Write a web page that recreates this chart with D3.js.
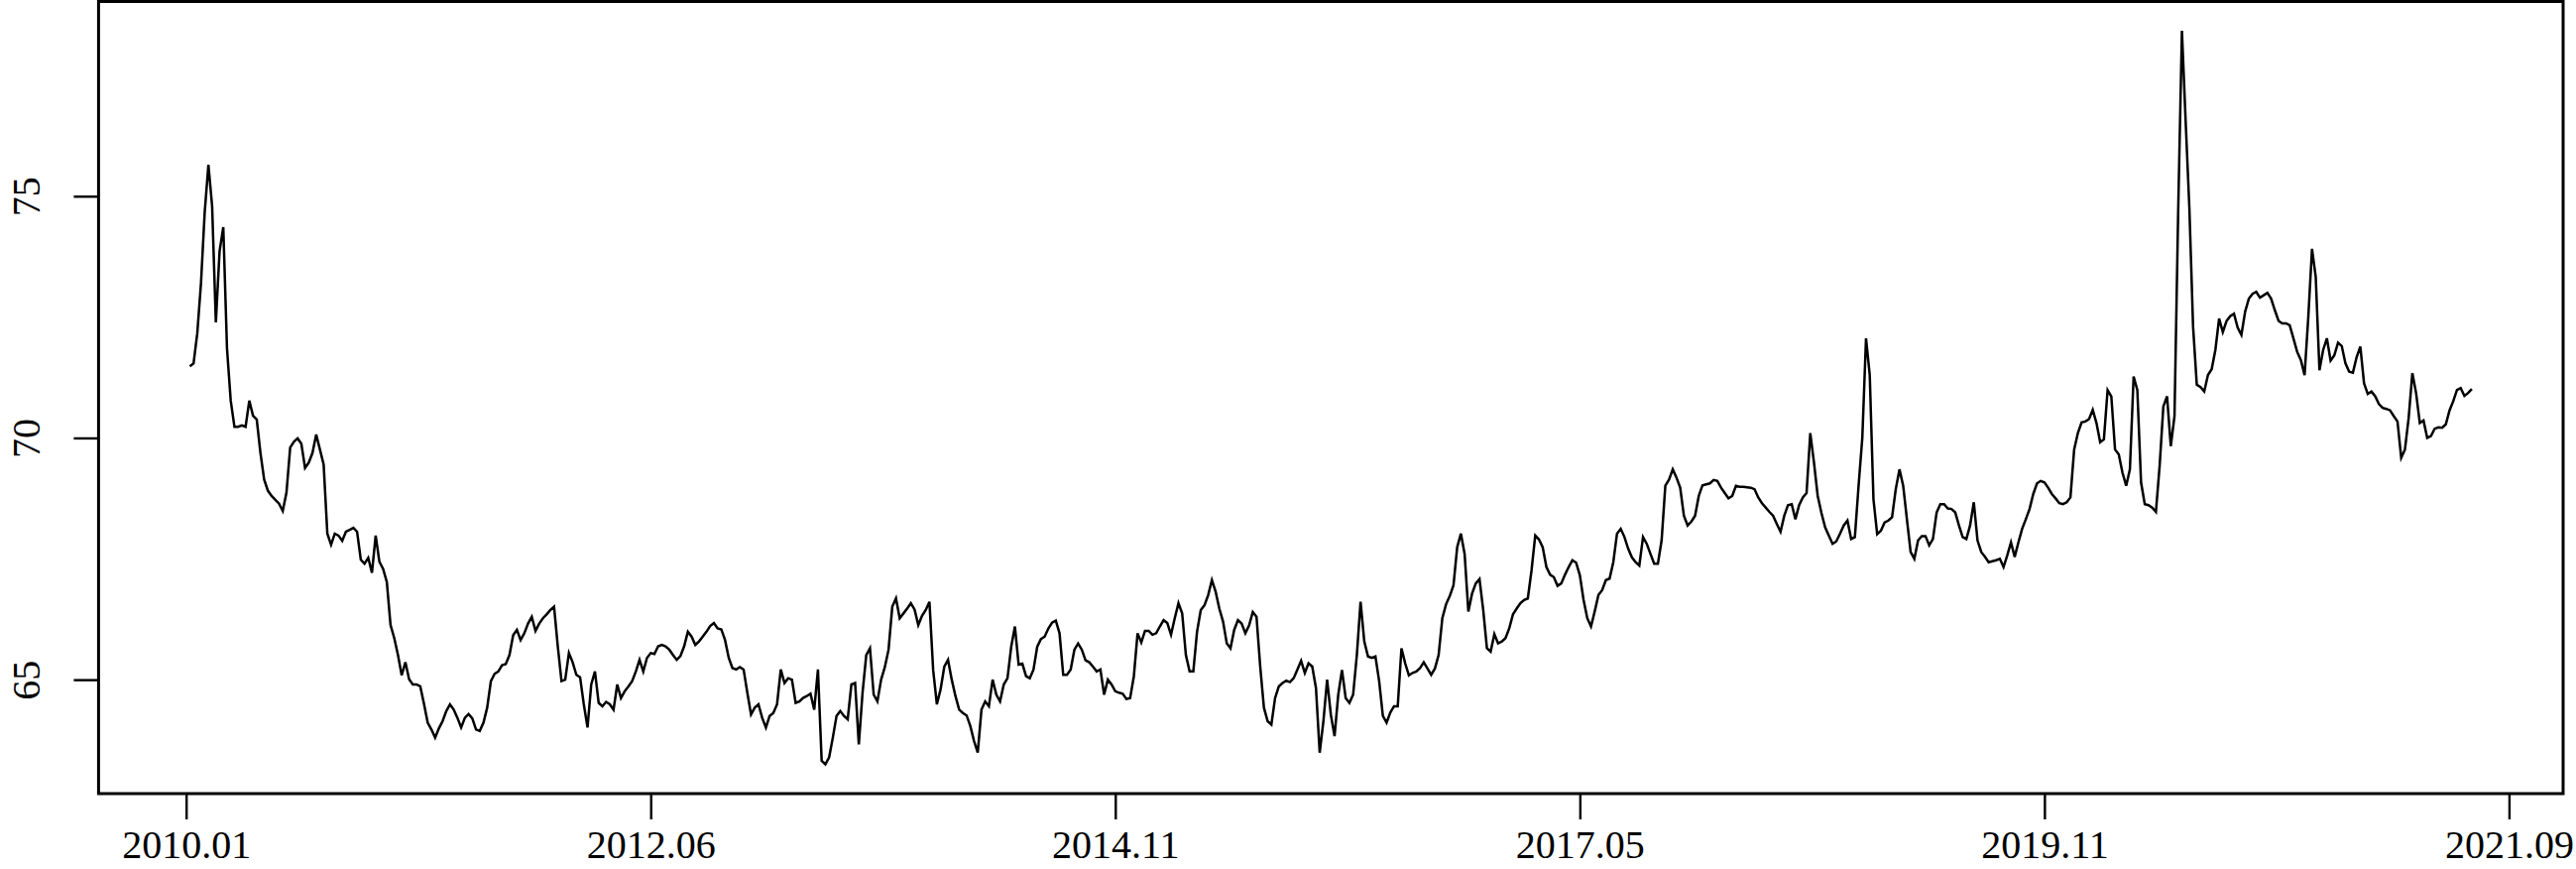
<!DOCTYPE html>
<html>
<head>
<meta charset="utf-8">
<script src="https://cdn.jsdelivr.net/npm/d3@7"></script>
<style>
  html, body { margin: 0; padding: 0; background: #fff; }
  svg { display: block; }
  .axis text { font-family: "Liberation Serif", "DejaVu Serif", serif; font-size: 40px; fill: #000; }
  .axis line { stroke: #000; stroke-width: 2.4; }
</style>
</head>
<body>
<div id="chart"></div>
<script>
// weekly series (index 1..N)
var values = [
  71.48, 71.54, 72.16, 73.2, 74.67, 75.65, 74.79, 72.39, 73.86, 74.36,
  71.85, 70.77, 70.23, 70.23, 70.26, 70.23, 70.77, 70.46, 70.38, 69.69,
  69.14, 68.91, 68.8, 68.72, 68.64, 68.49, 68.87, 69.8, 69.92, 69.99,
  69.88, 69.38, 69.49, 69.69, 70.07, 69.76, 69.45, 68.02, 67.79, 68.02,
  67.98, 67.87, 68.06, 68.1, 68.14, 68.06, 67.48, 67.4, 67.52, 67.21,
  67.98, 67.44, 67.29, 67.02, 66.13, 65.86, 65.51, 65.09, 65.36, 65.01,
  64.9, 64.9, 64.86, 64.5,
  64.11, 63.97, 63.8, 63.99, 64.14, 64.35, 64.49, 64.38, 64.21, 64.01,
  64.21, 64.29, 64.2, 63.97, 63.94, 64.11, 64.42, 64.97, 65.12, 65.17,
  65.3, 65.32, 65.51, 65.92, 66.03, 65.82, 65.96, 66.16, 66.3, 66.01,
  66.16, 66.27, 66.35, 66.44, 66.51, 65.69, 64.97, 65.0, 65.55, 65.36,
  65.1, 65.05, 64.49, 64.01, 64.9, 65.17, 64.52, 64.45, 64.54, 64.49,
  64.38, 64.9, 64.62, 64.76, 64.86, 64.97, 65.17, 65.41, 65.17, 65.45,
  65.55, 65.53, 65.69, 65.72,
  65.69, 65.62, 65.51, 65.41, 65.49, 65.69, 65.99, 65.89, 65.72, 65.79,
  65.89, 65.99, 66.11, 66.17, 66.06, 66.04, 65.82, 65.45, 65.24, 65.21,
  65.26, 65.21, 64.73, 64.28, 64.42, 64.49, 64.21, 64.01, 64.25, 64.31,
  64.49, 65.21, 64.93, 65.03, 65.0, 64.52, 64.55, 64.62, 64.66, 64.71,
  64.38, 65.21, 63.32, 63.25, 63.39, 63.8, 64.25, 64.35, 64.25, 64.18,
  64.9, 64.93, 63.66, 64.73, 65.51, 65.65, 64.69, 64.55, 65.0, 65.26,
  65.62, 66.51, 66.68, 66.27,
  66.37, 66.47, 66.58, 66.45, 66.13, 66.32, 66.44, 66.61, 65.2, 64.49,
  64.8, 65.27, 65.41, 65.0, 64.66, 64.38, 64.31, 64.26, 64.04, 63.73,
  63.49, 64.38, 64.55, 64.45, 65.0, 64.69, 64.55, 64.9, 65.03, 65.68,
  66.1, 65.31, 65.33, 65.07, 65.03, 65.21, 65.68, 65.84, 65.89, 66.06,
  66.18, 66.22, 65.96, 65.1, 65.1, 65.21, 65.62, 65.75, 65.62, 65.4,
  65.36, 65.27, 65.17, 65.21, 64.69, 65.0, 64.9, 64.76, 64.73, 64.71,
  64.6, 64.62, 65.07, 65.96,
  65.77, 66.01, 66.01, 65.93, 65.96, 66.1, 66.23, 66.17, 65.93, 66.27,
  66.58, 66.37, 65.51, 65.17, 65.17, 65.99, 66.44, 66.54, 66.75, 67.06,
  66.82, 66.47, 66.2, 65.75, 65.65, 66.03, 66.23, 66.16, 65.96, 66.12,
  66.4, 66.3, 65.27, 64.42, 64.14, 64.07, 64.62, 64.86, 64.93, 64.98,
  64.95, 65.03, 65.21, 65.39, 65.14, 65.34, 65.27, 64.83, 63.49, 64.14,
  65.0, 64.28, 63.83, 64.69, 65.2, 64.62, 64.52, 64.69, 65.51, 66.61,
  65.79, 65.48, 65.45, 65.48,
  64.97, 64.25, 64.11, 64.32, 64.45, 64.45, 65.65, 65.34, 65.09, 65.14,
  65.17, 65.24, 65.36, 65.23, 65.1, 65.23, 65.51, 66.27, 66.56, 66.73,
  66.95, 67.74, 68.02, 67.6, 66.41, 66.78, 66.99, 67.08, 66.44, 65.65,
  65.58, 65.94, 65.75, 65.79, 65.86, 66.06, 66.35, 66.47, 66.58, 66.65,
  66.68, 67.26, 67.98, 67.9, 67.74, 67.33, 67.17, 67.12, 66.94, 66.99,
  67.17, 67.33, 67.47, 67.42, 67.16, 66.65, 66.27, 66.1, 66.41, 66.75,
  66.85, 67.06, 67.09, 67.43,
  68.02, 68.12, 67.95, 67.71, 67.53, 67.43, 67.36, 67.95, 67.81, 67.6,
  67.4, 67.4, 67.88, 69.01, 69.14, 69.35, 69.18, 68.97, 68.39, 68.19,
  68.27, 68.39, 68.8, 69.02, 69.04, 69.06, 69.13, 69.11, 68.97, 68.86,
  68.75, 68.8, 69.01, 68.99, 68.99, 68.98, 68.97, 68.94, 68.77, 68.65,
  68.56, 68.47, 68.39, 68.22, 68.06, 68.39, 68.61, 68.63, 68.32, 68.61,
  68.77, 68.86, 70.1, 69.49, 68.8, 68.45, 68.15, 67.98, 67.81, 67.86,
  68.02, 68.19, 68.29, 67.91,
  67.95, 69.01, 70.0, 72.06, 71.3, 68.73, 68.01, 68.08, 68.25, 68.29,
  68.36, 68.94, 69.35, 69.01, 68.32, 67.64, 67.5, 67.88, 67.97, 67.97,
  67.78, 67.91, 68.46, 68.63, 68.63, 68.54, 68.53, 68.46, 68.19, 67.95,
  67.91, 68.19, 68.67, 67.88, 67.64, 67.54, 67.43, 67.45, 67.47, 67.5,
  67.33, 67.57, 67.84, 67.54, 67.84, 68.12, 68.32, 68.53, 68.84, 69.06,
  69.11, 69.08, 68.97, 68.84, 68.75, 68.65, 68.63, 68.67, 68.77, 69.76,
  70.1, 70.32, 70.34, 70.39,
  70.58, 70.31, 69.91, 69.97, 70.99, 70.86, 69.76, 69.66, 69.28, 69.01,
  69.35, 71.27, 70.99, 69.08, 68.63, 68.61, 68.56, 68.47, 69.42, 70.65,
  70.86, 69.83, 70.45, 74.73, 78.42, 76.55, 74.76, 72.3, 71.1, 71.05,
  70.96, 71.3, 71.42, 71.82, 72.47, 72.19, 72.42, 72.52, 72.57, 72.28,
  72.13, 72.61, 72.88, 72.98, 73.02, 72.9, 72.95, 73.0, 72.88, 72.64,
  72.42, 72.37, 72.37, 72.33, 72.06, 71.78, 71.61, 71.3, 72.5, 73.91,
  73.33, 71.4, 71.82, 72.06,
  71.6, 71.71, 71.97, 71.9, 71.54, 71.37, 71.35, 71.67, 71.89, 71.13,
  70.91, 70.96, 70.86, 70.7, 70.62, 70.6, 70.57, 70.45, 70.34, 69.59,
  69.76, 70.41, 71.34, 70.93, 70.31, 70.36, 70.0, 70.04, 70.19, 70.22,
  70.21, 70.28, 70.57, 70.76, 70.99, 71.03, 70.87, 70.93, 71.01
];

var xTickIndex = [0, 125, 250, 375, 500, 625];
var xTickLabels = ["2010.01", "2012.06", "2014.11", "2017.05", "2019.11", "2021.09"];
var yTicks = [65, 70, 75];

var W = 2598, H = 876;
var box = { left: 99.4, right: 2585, top: 1.5, bottom: 800 };

var n = values.length;

// R style axis limits: data range padded by 4% on each side
function padded(lo, hi) {
  var r = hi - lo;
  return [lo - 0.04 * r, hi + 0.04 * r];
}

var x = d3.scaleLinear()
  .domain(padded(1, n))
  .range([box.left, box.right]);

var y = d3.scaleLinear()
  .domain(padded(d3.min(values), d3.max(values)))
  .range([box.bottom, box.top]);

var svg = d3.select("#chart").append("svg")
  .attr("width", W)
  .attr("height", H);

// series line
var line = d3.line()
  .x(function (d, i) { return x(i + 1); })
  .y(function (d) { return y(d); });

svg.append("path")
  .datum(values)
  .attr("fill", "none")
  .attr("stroke", "#000")
  .attr("stroke-width", 2.5)
  .attr("stroke-linejoin", "miter")
  .attr("d", line);

// frame
svg.append("rect")
  .attr("x", box.left)
  .attr("y", box.top)
  .attr("width", box.right - box.left)
  .attr("height", box.bottom - box.top)
  .attr("fill", "none")
  .attr("stroke", "#000")
  .attr("stroke-width", 3);

// x axis
var xAxis = d3.axisBottom(x)
  .tickValues(xTickIndex)
  .tickFormat(function (d, i) { return xTickLabels[i]; })
  .tickSize(26)
  .tickPadding(11);

var gx = svg.append("g")
  .attr("class", "axis")
  .attr("transform", "translate(0," + box.bottom + ")")
  .call(xAxis);
gx.select(".domain").remove();

// y axis, labels parallel to the axis
var yAxis = d3.axisLeft(y)
  .tickValues(yTicks)
  .tickSize(25);

var gy = svg.append("g")
  .attr("class", "axis")
  .attr("transform", "translate(" + box.left + ",0)")
  .call(yAxis);
gy.select(".domain").remove();
gy.selectAll("text")
  .attr("x", 0)
  .attr("y", 0)
  .attr("dy", 0)
  .attr("text-anchor", "middle")
  .attr("transform", "translate(" + (40 - box.left) + ",0) rotate(-90)");
</script>
</body>
</html>
